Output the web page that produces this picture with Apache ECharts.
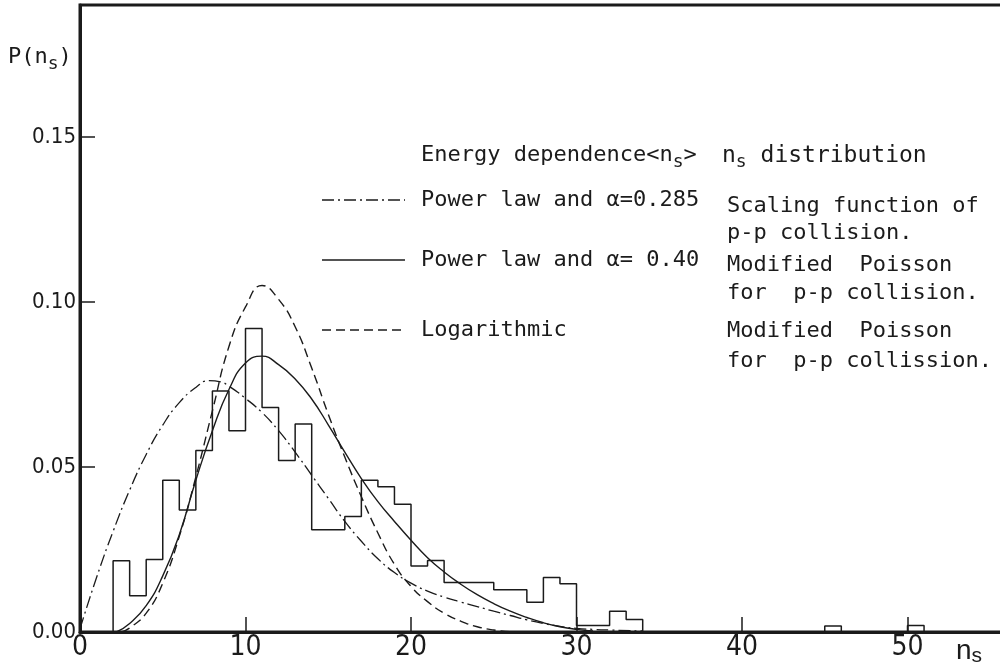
<!DOCTYPE html>
<html><head><meta charset="utf-8">
<script src="https://cdn.jsdelivr.net/npm/echarts@6/dist/echarts.min.js"></script>
<style>html,body{margin:0;padding:0;background:#fff}#c{width:1000px;height:669px}</style>
</head><body><div id="c"></div>
<script>
// ---- data ----
const histBinStart = [2,3,4,5,6,7,8,9,10,11,12,13,14,15,16,17,18,19,20,21,22,23,24,25,26,27,28,29,30,31,32,33,45,50];
const histValue    = [0.0216,0.011,0.022,0.046,0.037,0.055,0.073,0.061,0.092,0.068,0.052,0.063,0.031,0.031,0.035,0.046,0.044,0.0387,0.020,0.0217,0.015,0.015,0.015,0.0128,0.0128,0.009,0.0165,0.0146,0.002,0.002,0.0063,0.0038,0.0018,0.002];
const histBinWidth = 1;

// Power law, alpha = 0.285 (dash-dot)
const dashDotX = [0,1,2,3,4,5,6,7,7.8,8.5,9,10,11,12,13,14,15,16,17,18,19,20,21,22,23,24,25,26,27,28,29,30,31,32,34];
const dashDotY = [0.001,0.0165,0.0305,0.043,0.0538,0.0627,0.0695,0.0741,0.0762,0.0758,0.0745,0.0708,0.0665,0.061,0.0545,0.0475,0.0405,0.0335,0.0275,0.0222,0.018,0.0148,0.0124,0.0106,0.0091,0.0077,0.0063,0.005,0.0037,0.0026,0.0017,0.0011,0.0008,0.0006,0.0003];

// Power law, alpha = 0.40 (solid)
const solidX = [2.2,3,4,5,6,7,8,9,10,11,12,13,14,15,16,17,18,19,20,21,22,23,24,25,26,27,28,29,30,31];
const solidY = [0,0.0026,0.008,0.017,0.0295,0.046,0.061,0.0735,0.0815,0.0836,0.081,0.0767,0.0706,0.0628,0.0545,0.0465,0.0395,0.0335,0.0278,0.0225,0.0182,0.0145,0.0113,0.0086,0.0063,0.0044,0.0028,0.0016,0.0008,0.0003];

// Logarithmic (dashed)
const dashedX = [2.5,3,4,5,6,7,8,9,10,11,12,13,14,15,16,17,18,19,20,21,22,23,24,25,26];
const dashedY = [0,0.0012,0.0057,0.0148,0.029,0.047,0.067,0.0865,0.0985,0.105,0.1008,0.0925,0.08,0.066,0.053,0.041,0.030,0.0205,0.0138,0.0092,0.0057,0.0033,0.0016,0.0006,0.0001];

const xTicks = [0,10,20,30,40,50];
const yTicks = [0,0.05,0.10,0.15];

const legendLeft = ['Power law and \u03b1=0.285','Power law and \u03b1= 0.40','Logarithmic'];
const legendRight = ['Scaling function of','p-p collision.','Modified  Poisson','for  p-p collision.','Modified  Poisson','for  p-p collission.'];

// ---- build ----
function histOutline(starts, vals, w){
  const pts=[]; let prevEnd=null;
  for(let i=0;i<starts.length;i++){
    const s=starts[i], e=s+w, v=vals[i];
    if(prevEnd===null) pts.push([s,0]);
    else if(prevEnd!==s){ pts.push([prevEnd,0]); pts.push([s,0]); }
    pts.push([s,v]); pts.push([e,v]); prevEnd=e;
  }
  pts.push([prevEnd,0]);
  return pts;
}
const zip=(a,b)=>a.map((x,i)=>[x,b[i]]);
const INK='#1b1b1b';
const LF="'DejaVu Sans Mono', monospace";
const AF="'DejaVu Sans Condensed','Liberation Sans', sans-serif";
const chart=echarts.init(document.getElementById('c'),null,{renderer:'canvas'});
const subRich=(fs,sfs,lh,ff)=>({m:{fontSize:fs,fontFamily:ff,color:INK,lineHeight:lh,verticalAlign:'top'},s:{fontSize:sfs,fontFamily:ff,color:INK,lineHeight:lh,verticalAlign:'bottom'}});

function txt(x,y,text,fs){return {type:'text',x:x,y:y,style:{text:text,fontSize:fs,fontFamily:LF,fill:INK,verticalAlign:'middle'}};}
function richTxt(x,y,text,fs,sfs,lh,ff){return {type:'text',x:x,y:y,style:{text:text,rich:subRich(fs,sfs,lh,ff||LF),verticalAlign:'middle',fill:INK}};}
function lineEl(x1,x2,y,dash){return {type:'line',shape:{x1:x1,y1:y,x2:x2,y2:y},style:{stroke:INK,lineWidth:1.3,lineDash:dash}};}

const DD=[12,4,2,4], DS=[9,5];
const yL=[200,260,330];
const yR=[206,233,265,293,331,361];
const graphic=[
  richTxt(421,158,'{m|Energy dependence<n}{s|s}{m|>}',22,18,27),
  richTxt(722,158,'{m|n}{s|s}{m| distribution}',23,18,27),
  lineEl(322,405,yL[0],DD), lineEl(322,405,yL[1],null), lineEl(322,405,yL[2],DS),
  txt(421,yL[0],legendLeft[0],22), txt(421,yL[1],legendLeft[1],22), txt(421,yL[2],legendLeft[2],22),
];
legendRight.forEach((t,i)=>graphic.push(txt(727,yR[i],t,22)));
graphic.push(richTxt(8,60,'{m|P(n}{s|s}{m|)}',22,18,27));
graphic.push(richTxt(956,652,'{m|n}{s|s}',28,21,30,'Liberation Sans'));

chart.setOption({
  animation:false,
  backgroundColor:'#fff',
  grid:{left:80,top:5,right:-3,bottom:37,show:true,borderColor:INK,borderWidth:3,containLabel:false,outerBoundsMode:'none'},
  xAxis:{type:'value',min:0,max:55.77,interval:10,
    axisLine:{show:true,onZero:false,lineStyle:{color:INK,width:3}},
    axisTick:{show:true,inside:true,length:15,lineStyle:{color:INK,width:1.5},customValues:xTicks},
    axisLabel:{show:true,margin:2,color:INK,fontSize:28,fontFamily:AF,customValues:xTicks,formatter:v=>String(v)},
    splitLine:{show:false}},
  yAxis:{type:'value',min:0,max:0.19,interval:0.05,
    axisLine:{show:true,onZero:false,lineStyle:{color:INK,width:3}},
    axisTick:{show:true,inside:true,length:15,lineStyle:{color:INK,width:1.5},customValues:yTicks},
    axisLabel:{show:true,margin:4,color:INK,fontSize:22,fontFamily:AF,customValues:yTicks,formatter:v=>v.toFixed(2)},
    splitLine:{show:false}},
  series:[
    {type:'line',data:histOutline(histBinStart,histValue,histBinWidth),symbol:'none',lineStyle:{color:INK,width:1.5},z:3},
    {type:'line',data:zip(dashDotX,dashDotY),smooth:0.5,symbol:'none',lineStyle:{color:INK,width:1.3,type:DD},z:2},
    {type:'line',data:zip(solidX,solidY),smooth:0.5,symbol:'none',lineStyle:{color:INK,width:1.4},z:2},
    {type:'line',data:zip(dashedX,dashedY),smooth:0.5,symbol:'none',lineStyle:{color:INK,width:1.4,type:DS},z:2}
  ],
  graphic:graphic
});
</script></body></html>
